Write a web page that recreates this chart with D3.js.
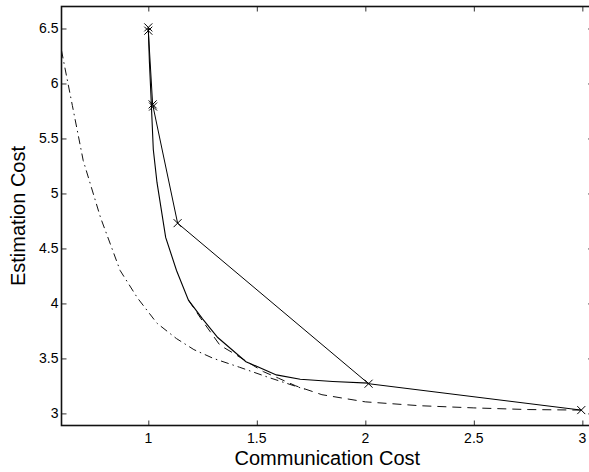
<!DOCTYPE html>
<html>
<head>
<meta charset="utf-8">
<script src="https://cdn.jsdelivr.net/npm/d3@7"></script>
<style>
  body { margin: 0; background: #fff; }
  svg { display: block; font-family: "Liberation Sans", Arial, sans-serif; }
</style>
</head>
<body>
<div id="chart"></div>
<script>
// Values

// solid line with x markers
const markedX = [1.0, 1.0, 1.02, 1.022, 1.135, 2.015, 2.995];
const markedY = [6.51, 6.48, 5.81, 5.79, 4.73, 3.27, 3.03];

// solid curve without markers
const solidX = [1.0, 1.005, 1.012, 1.023, 1.04, 1.08, 1.13, 1.185, 1.25, 1.32, 1.45, 1.59, 1.70, 1.85, 2.015];
const solidY = [6.5, 6.2, 5.9, 5.4, 5.1, 4.6, 4.3, 4.03, 3.86, 3.69, 3.47, 3.35, 3.31, 3.29, 3.275];

// dashed curve
const dashX = [1.185, 1.25, 1.33, 1.39, 1.48, 1.53, 1.6, 1.68, 1.8, 2.0, 2.25, 2.5, 2.75, 2.995];
const dashY = [4.03, 3.84, 3.62, 3.55, 3.44, 3.38, 3.32, 3.25, 3.17, 3.105, 3.07, 3.05, 3.035, 3.03];

// dash-dot curve
const dotX = [0.6, 0.65, 0.7, 0.78, 0.87, 0.95, 1.04, 1.13, 1.21, 1.3, 1.42, 1.55, 1.72];
const dotY = [6.3, 5.8, 5.3, 4.78, 4.3, 4.05, 3.82, 3.68, 3.58, 3.5, 3.42, 3.33, 3.22];

const xTicks = [1, 1.5, 2, 2.5, 3];
const yTicks = [3, 3.5, 4, 4.5, 5, 5.5, 6, 6.5];

const width = 589, height = 472;
const box = {left: 61.5, top: 6.5, right: 593.2, bottom: 425.5};

const svg = d3.select('#chart').append('svg')
  .attr('width', width)
  .attr('height', height);

const x = d3.scaleLinear().domain([0.6, 3.05]).range([box.left, box.right]);
const y = d3.scaleLinear().domain([2.89, 6.7]).range([box.bottom, box.top]);

// ticks point inward, mirrored on top and right
const tickLen = 5;
svg.append('g')
  .attr('transform', `translate(0,${box.bottom})`)
  .call(d3.axisTop(x).tickValues(xTicks).tickSize(tickLen).tickFormat(''))
  .call(g => g.select('.domain').remove());
svg.append('g')
  .attr('transform', `translate(0,${box.top})`)
  .call(d3.axisBottom(x).tickValues(xTicks).tickSize(tickLen).tickFormat(''))
  .call(g => g.select('.domain').remove());
svg.append('g')
  .attr('transform', `translate(${box.left},0)`)
  .call(d3.axisRight(y).tickValues(yTicks).tickSize(tickLen).tickFormat(''))
  .call(g => g.select('.domain').remove());
svg.append('g')
  .attr('transform', `translate(${box.right},0)`)
  .call(d3.axisLeft(y).tickValues(yTicks).tickSize(tickLen).tickFormat(''))
  .call(g => g.select('.domain').remove());
svg.selectAll('.tick line').attr('stroke', '#333').attr('stroke-width', 1);

// tick labels
svg.selectAll('text.xlab')
  .data(xTicks)
  .enter().append('text')
  .attr('class', 'xlab')
  .attr('x', d => x(d))
  .attr('y', 443)
  .attr('text-anchor', 'middle')
  .attr('font-size', 14)
  .text(d => d);
svg.selectAll('text.ylab')
  .data(yTicks)
  .enter().append('text')
  .attr('class', 'ylab')
  .attr('x', box.left - 3)
  .attr('y', d => y(d) + 5)
  .attr('text-anchor', 'end')
  .attr('font-size', 14)
  .text(d => d);

// box
svg.append('rect')
  .attr('x', box.left)
  .attr('y', box.top)
  .attr('width', box.right - box.left)
  .attr('height', box.bottom - box.top)
  .attr('fill', 'none')
  .attr('stroke', '#111')
  .attr('stroke-width', 1.6);

const line = d3.line().x(d => x(d[0])).y(d => y(d[1]));
const zip = (a, b) => a.map((v, i) => [v, b[i]]);

svg.append('path')
  .attr('d', line(zip(dotX, dotY)))
  .attr('fill', 'none')
  .attr('stroke', '#111')
  .attr('stroke-width', 1)
  .attr('stroke-dasharray', '8,4,1.5,4');

svg.append('path')
  .attr('d', line(zip(dashX, dashY)))
  .attr('fill', 'none')
  .attr('stroke', '#111')
  .attr('stroke-width', 1)
  .attr('stroke-dasharray', '9,6');

svg.append('path')
  .attr('d', line(zip(solidX, solidY)))
  .attr('fill', 'none')
  .attr('stroke', '#000')
  .attr('stroke-width', 1.1);

svg.append('path')
  .attr('d', line(zip(markedX, markedY)))
  .attr('fill', 'none')
  .attr('stroke', '#000')
  .attr('stroke-width', 1);

// x markers
const m = 4;
svg.selectAll('path.marker')
  .data(zip(markedX, markedY))
  .enter().append('path')
  .attr('class', 'marker')
  .attr('d', d => {
    const cx = x(d[0]), cy = y(d[1]);
    return `M${cx - m},${cy - m}L${cx + m},${cy + m}M${cx - m},${cy + m}L${cx + m},${cy - m}`;
  })
  .attr('stroke', '#000')
  .attr('stroke-width', 1);

// axis titles
svg.append('text')
  .attr('x', (box.left + box.right) / 2)
  .attr('y', 465)
  .attr('text-anchor', 'middle')
  .attr('font-size', 20)
  .text('Communication Cost');
svg.append('text')
  .attr('transform', `translate(25,${(box.top + box.bottom) / 2}) rotate(-90)`)
  .attr('text-anchor', 'middle')
  .attr('font-size', 20)
  .text('Estimation Cost');
</script>
</body>
</html>
